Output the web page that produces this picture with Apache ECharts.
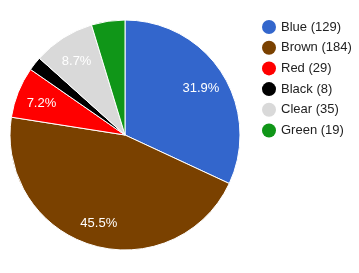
<!DOCTYPE html>
<html>
<head>
<meta charset="utf-8">
<script src="https://cdn.jsdelivr.net/npm/echarts@6/dist/echarts.min.js"></script>
<style>html,body{margin:0;padding:0;background:#fff;}#c{width:359px;height:273px;}</style>
</head>
<body>
<div id="c"></div>
<script>
const categories = ['Blue', 'Brown', 'Red', 'Black', 'Clear', 'Green'];
const values = [129, 184, 29, 8, 35, 19];
const colors = ['#3366cc', '#7a4100', '#ff0000', '#000000', '#d9d9d9', '#109618'];

const total = values.reduce((a, b) => a + b, 0);
const data = categories.map((n, i) => ({ name: n, value: values[i] }));
const chart = echarts.init(document.getElementById('c'), null, { renderer: 'canvas' });
const font = '"Liberation Sans", Arial, sans-serif';
chart.setOption({
  animation: false,
  color: colors,
  legend: {
    orient: 'vertical',
    left: 257,
    top: 15,
    itemWidth: 14,
    itemHeight: 14,
    itemGap: 6.7,
    icon: 'circle',
    data: categories,
    itemStyle: { borderWidth: 0 },
    formatter: function (name) {
      const i = categories.indexOf(name);
      return name + ' (' + values[i] + ')';
    },
    textStyle: { fontFamily: font, fontSize: 13, color: '#222222' }
  },
  series: [
    {
      type: 'pie',
      center: [125, 135],
      radius: [0, 115],
      startAngle: 90,
      clockwise: true,
      data: data,
      itemStyle: { borderColor: '#ffffff', borderWidth: 1 },
      label: { show: false },
      labelLine: { show: false },
      emphasis: { disabled: true }
    },
    {
      type: 'pie',
      center: [125, 137],
      radius: [59, 115],
      startAngle: 90,
      clockwise: true,
      data: data,
      silent: true,
      legendHoverLink: false,
      itemStyle: { color: 'rgba(0,0,0,0)', borderWidth: 0 },
      label: {
        show: true,
        position: 'inside',
        color: '#ffffff',
        fontFamily: font,
        fontSize: 13,
        formatter: function (p) {
          const pct = p.value / total * 100;
          return pct < 5 ? '' : pct.toFixed(1) + '%';
        }
      },
      labelLine: { show: false },
      emphasis: { disabled: true }
    }
  ]
});
</script>
</body>
</html>
